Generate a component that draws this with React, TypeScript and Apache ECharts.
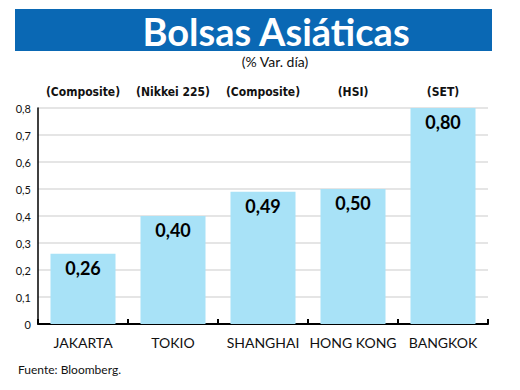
import React, { useEffect, useRef } from "react";
import * as echarts from "echarts";

const categories = ["JAKARTA", "TOKIO", "SHANGHAI", "HONG KONG", "BANGKOK"];
const indexNames = ["(Composite)", "(Nikkei 225)", "(Composite)", "(HSI)", "(SET)"];
const values = [0.26, 0.4, 0.49, 0.5, 0.8];
const title = "Bolsas Asiáticas";
const subtitle = "(% Var. día)";
const source = "Fuente: Bloomberg.";

const fmt = (v: number) => String(v).replace(".", ",");

export default function App() {
  const ref = useRef<HTMLDivElement>(null);
  useEffect(() => {
    const chart = echarts.init(ref.current!, null, { renderer: "svg" });
    chart.setOption({
      animation: false,
      backgroundColor: "#ffffff",
      grid: { left: 38, right: 32, top: 108, bottom: 66 },
      graphic: [
        { type: "rect", shape: { x: 15, y: 9, width: 477, height: 42 }, style: { fill: "#0a68b4" } },
        {
          type: "text", x: 276, y: 31,
          style: { text: title, fill: "#ffffff", font: "bold 38px Lato", textAlign: "center", textVerticalAlign: "middle" },
        },
        {
          type: "text", x: 275, y: 61,
          style: { text: subtitle, fill: "#111", font: "14px Lato", textAlign: "center", textVerticalAlign: "middle" },
        },
        {
          type: "text", x: 18, y: 369,
          style: { text: source, fill: "#111", font: "12px Lato", textAlign: "left", textVerticalAlign: "middle" },
        },
      ],
      xAxis: [
        {
          type: "category",
          data: categories,
          position: "bottom",
          axisLine: { lineStyle: { color: "#000", width: 2 } },
          axisTick: { show: true, inside: true, length: 5, lineStyle: { color: "#000", width: 2 } },
          axisLabel: { interval: 0, color: "#111", fontFamily: "Lato", fontSize: 14, margin: 11 },
        },
        {
          type: "category",
          data: indexNames,
          position: "top",
          axisLine: { show: false },
          axisTick: { show: false },
          axisLabel: {
            interval: 0, color: "#111", fontFamily: "'DejaVu Sans Condensed', 'Liberation Sans Narrow', sans-serif",
            fontWeight: "bold", fontSize: 12, margin: 10,
          },
        },
      ],
      yAxis: {
        type: "value",
        min: 0,
        max: 0.8,
        interval: 0.1,
        axisLine: { show: true, lineStyle: { color: "#000", width: 1.5 } },
        axisTick: { show: false },
        splitLine: { lineStyle: { color: "#dcdcdc", width: 1.5 } },
        axisLabel: {
          color: "#111", fontFamily: "Lato", fontSize: 11, margin: 7,
          formatter: (v: number) => fmt(Math.round(v * 10) / 10),
        },
      },
      series: [
        {
          type: "bar",
          data: values,
          barWidth: 65,
          itemStyle: { color: "#a8e2f7" },
          label: {
            show: true,
            position: "insideTop",
            distance: 5,
            color: "#000",
            fontFamily: "Lato",
            fontWeight: "bold",
            fontSize: 18,
            formatter: (p: any) => p.value.toFixed(2).replace(".", ","),
          },
        },
      ],
    });
    return () => chart.dispose();
  }, []);
  return <div ref={ref} style={{ position: "fixed", left: 0, top: 0, width: 520, height: 390 }} />;
}
